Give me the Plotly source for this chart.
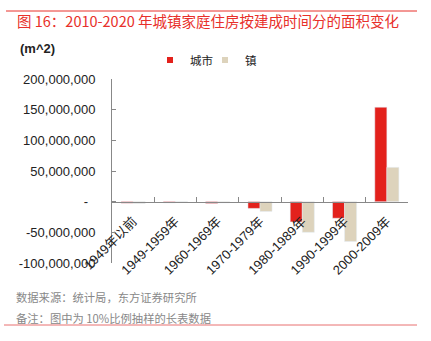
import plotly.graph_objects as go

categories = ["1949年以前", "1949-1959年", "1960-1969年", "1970-1979年",
              "1980-1989年", "1990-1999年", "2000-2009年"]
city = [-2500000, -2000000, -3000000, -11000000, -33000000, -27000000, 154000000]
town = [-3000000, -1000000, -2000000, -16000000, -50000000, -65000000, 56000000]
ytick_vals = [200000000, 150000000, 100000000, 50000000, 0, -50000000, -100000000]
ytick_text = ["200,000,000", "150,000,000", "100,000,000", "50,000,000",
              "-\u00a0\u00a0", "-50,000,000", "-100,000,000"]

RED = "#E3211C"
BEIGE = "#DDD3BC"
FONT = "Liberation Sans, Noto Sans CJK SC, sans-serif"
LEG_FONT = dict(family="Noto Sans CJK SC, sans-serif", size=11.5, color="#222")

fig = go.Figure()
fig.add_trace(go.Bar(name="城市", x=categories, y=city, marker_color=RED, showlegend=False))
fig.add_trace(go.Bar(name="镇", x=categories, y=town, marker_color=BEIGE, showlegend=False))
# legend entries with small square swatches
fig.add_trace(go.Scatter(name="城市", x=[categories[0]], y=[None], mode="markers",
                         marker=dict(symbol="square", size=6, color=RED), legend="legend"))
fig.add_trace(go.Scatter(name="镇", x=[categories[0]], y=[None], mode="markers",
                         marker=dict(symbol="square", size=6, color=BEIGE), legend="legend2"))

fig.update_layout(
    width=431, height=341,
    margin=dict(l=112, r=23, t=79, b=78),
    paper_bgcolor="white", plot_bgcolor="white",
    barmode="group", bargap=0.43, bargroupgap=0,
    font=dict(family=FONT, size=13, color="#222"),
    showlegend=True,
    legend=dict(orientation="h", x=(150 - 112) / 296, y=(263 - 60) / 184,
                xanchor="left", yanchor="middle", font=LEG_FONT,
                itemwidth=30, bgcolor="rgba(0,0,0,0)"),
    legend2=dict(orientation="h", x=(205 - 112) / 296, y=(263 - 60) / 184,
                 xanchor="left", yanchor="middle", font=LEG_FONT,
                 itemwidth=30, bgcolor="rgba(0,0,0,0)"),
    xaxis=dict(anchor="free", position=1/3, showline=True, linecolor="#888", linewidth=1,
               ticks="inside", ticklen=5, tickcolor="#888", tickson="boundaries",
               tickangle=-45, tickfont=dict(size=13, color="#222"),
               showgrid=False, zeroline=False, ticklabelstandoff=6),
    yaxis=dict(range=[-100000000, 200000000], tickvals=ytick_vals, ticktext=ytick_text,
               showline=True, linecolor="#888", linewidth=1, ticks="inside", ticklen=4,
               tickcolor="#888", showgrid=False, zeroline=False, ticklabelstandoff=13,
               tickfont=dict(size=13, color="#222")),
)

fig.add_annotation(xref="paper", yref="paper", x=-(112 - 15) / 296, y=(263 - 21) / 184,
                   xanchor="left", yanchor="middle", showarrow=False,
                   text="图 16：2010-2020 年城镇家庭住房按建成时间分的面积变化",
                   font=dict(family="Noto Sans CJK SC, sans-serif", size=14.5, color="#E8302A"))
fig.add_annotation(xref="paper", yref="paper", x=-(112 - 18) / 296, y=(263 - 48) / 184,
                   xanchor="left", yanchor="middle", showarrow=False,
                   text="<b>(m^2)</b>", font=dict(size=13, color="#222"))
fig.add_annotation(xref="paper", yref="paper", x=-(112 - 14) / 296, y=(263 - 297) / 184,
                   xanchor="left", yanchor="middle", showarrow=False,
                   text="数据来源：统计局，东方证券研究所",
                   font=dict(family="Noto Sans CJK SC, sans-serif", size=11.3, color="#888"))
fig.add_annotation(xref="paper", yref="paper", x=-(112 - 14) / 296, y=(263 - 318) / 184,
                   xanchor="left", yanchor="middle", showarrow=False,
                   text="备注：图中为 10%比例抽样的长表数据",
                   font=dict(family="Noto Sans CJK SC, sans-serif", size=11.3, color="#888"))

fig.add_shape(type="line", xref="paper", yref="paper", x0=-(112 - 6) / 296, x1=(417 - 112) / 296,
              y0=(263 - 11) / 184, y1=(263 - 11) / 184, line=dict(color="#E8302A", width=1))
fig.add_shape(type="line", xref="paper", yref="paper", x0=-(112 - 4) / 296, x1=(417 - 112) / 296,
              y0=(263 - 325) / 184, y1=(263 - 325) / 184, line=dict(color="#E87070", width=1))

fig.write_html("out.html")
